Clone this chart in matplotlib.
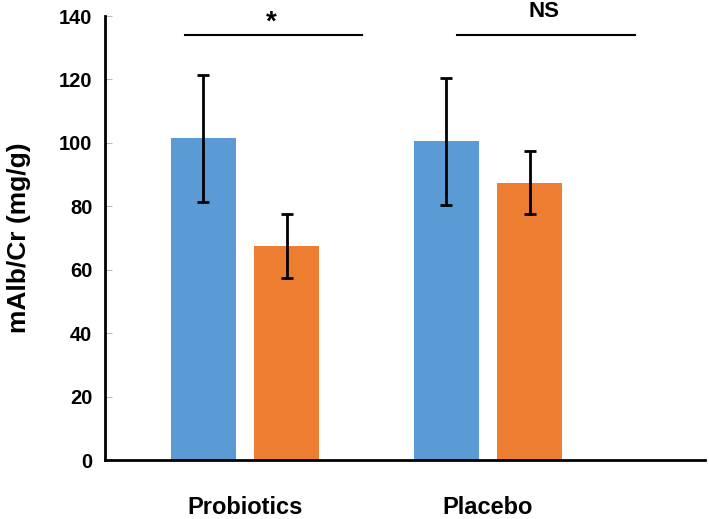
import matplotlib.pyplot as plt
import numpy as np

plt.rcParams['font.family'] = ['Liberation Sans', 'DejaVu Sans']

groups = ["Probiotics", "Placebo"]
before_vals = [101.5, 100.5]
after_vals = [67.5, 87.5]
before_err = [20.0, 20.0]
after_err = [10.2, 10.0]
sig_labels = ["*", "NS"]
sig_sizes = [20, 16]
sig_y = [138.0, 141.5]

fig = plt.figure(figsize=(7.09, 5.19), dpi=100)
ax = fig.add_axes([105 / 709, 59 / 519, 600 / 709, 444 / 519])

x = np.arange(len(groups))
w = 0.267
off = 0.171
ax.bar(x - off, before_vals, w, color="#5B9BD5", zorder=2)
ax.bar(x + off, after_vals, w, color="#ED7D31", zorder=2)
ax.errorbar(x - off, before_vals, yerr=before_err, fmt="none", ecolor="black",
            elinewidth=2, capsize=4.5, capthick=2, zorder=3)
ax.errorbar(x + off, after_vals, yerr=after_err, fmt="none", ecolor="black",
            elinewidth=2, capsize=4.5, capthick=2, zorder=3)

# significance lines
line_spans = [(-0.247, 0.481), (-0.128, 0.605)]
for xi, (a, b), lab, fs, ty in zip(x, line_spans, sig_labels, sig_sizes, sig_y):
    ax.plot([xi + a, xi + b], [134, 134], color="black", lw=1.5, clip_on=False)
    ax.text(xi + (a + b) / 2 - 0.01, ty, lab, ha="center", va="center",
            fontsize=fs, fontweight="bold", clip_on=False)

ax.set_xlim(-0.576, 1.893)
ax.set_ylim(0, 140)
ax.set_yticks(np.arange(0, 141, 20))
ax.set_xticks([])
for xi, g in zip(x, groups):
    ax.text(xi, -15, g, ha="center", va="center", fontsize=17, fontweight="bold")

ax.tick_params(axis="y", direction="in", length=5, color="#bbbbbb",
               labelsize=14.5, pad=9)
for lbl in ax.get_yticklabels():
    lbl.set_fontweight("bold")
ax.set_ylabel("mAlb/Cr (mg/g)", fontsize=19, fontweight="bold")
ax.yaxis.set_label_coords(-0.123, 0.5)

ax.spines["top"].set_visible(False)
ax.spines["right"].set_visible(False)
ax.spines["left"].set_linewidth(2)
ax.spines["bottom"].set_linewidth(2)

fig.savefig("out.png", dpi=100)
